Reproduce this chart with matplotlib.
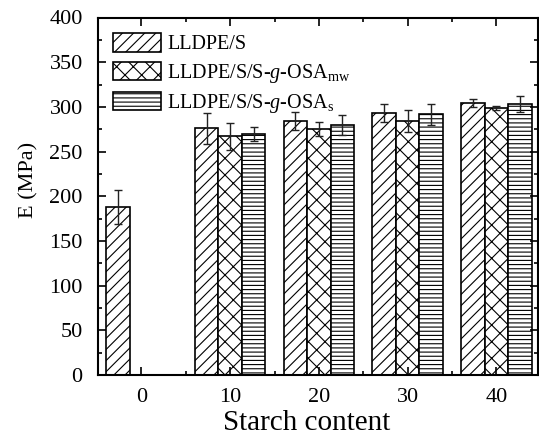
import matplotlib
matplotlib.use("Agg")
import matplotlib.pyplot as plt
import numpy as np

plt.rcParams['font.family'] = ['Liberation Serif', 'DejaVu Serif']
plt.rcParams['mathtext.fontset'] = 'custom'
plt.rcParams['mathtext.rm'] = 'Liberation Serif'
plt.rcParams['mathtext.it'] = 'Liberation Serif:italic'
plt.rcParams['hatch.linewidth'] = 0.8

categories = ["0", "10", "20", "30", "40"]
series_names = ["LLDPE/S", r"LLDPE/S/S-$\mathit{g}$-OSA$_{\mathrm{mw}}$", r"LLDPE/S/S-$\mathit{g}$-OSA$_{\mathrm{s}}$"]
lldpe_s = [188.5, 276, 284, 293.5, 304]
lldpe_s_err = [19, 17, 10, 10, 4.5]
osa_mw = [np.nan, 267, 275, 284, 299]
osa_mw_err = [np.nan, 15.5, 8, 12, 2.5]
osa_s = [np.nan, 269.5, 279.5, 291.5, 303]
osa_s_err = [np.nan, 8, 11, 12, 9]
hatches = ['///', 'xx', '----']

fig = plt.figure(figsize=(5.39, 4.37), dpi=100)
ax = fig.add_axes([98/539, 1-375/437, 440/539, 357.5/437])

x = np.arange(len(categories))
w = 0.265
offsets = [-w, 0, w]
for vals, errs, off, hatch, name in zip([lldpe_s, osa_mw, osa_s], [lldpe_s_err, osa_mw_err, osa_s_err], offsets, hatches, series_names):
    ax.bar(x + off, vals, w, yerr=errs, color='white', edgecolor='black', linewidth=1.2,
           hatch=hatch, label=name,
           error_kw=dict(ecolor='#222222', elinewidth=1.0, capsize=3, capthick=1.0))

ax.set_xlim(-0.49, 4.47)
ax.set_ylim(0, 400)
ax.set_xticks(x)
ax.set_xticklabels(categories)
ax.set_xticks(x[:-1] + 0.5, minor=True)
ax.set_yticks(np.arange(0, 401, 50))
ax.set_yticks(np.arange(25, 400, 50), minor=True)
ax.tick_params(axis='both', which='both', direction='in', top=True, right=True, labelsize=16, width=1.2)
ax.tick_params(which='major', length=6)
ax.tick_params(which='minor', length=3)
ax.tick_params(axis='x', pad=9)
ax.tick_params(axis='y', pad=11)
for s in ax.spines.values():
    s.set_linewidth(1.5)

ax.set_xlabel("Starch content", fontsize=21)
ax.xaxis.set_label_coords(0.474, -0.098)
ax.set_ylabel("E (MPa)", fontsize=16)
ax.yaxis.set_label_coords(-0.136, 0.545)

leg = ax.legend(loc='upper left', bbox_to_anchor=(14.7/440, 1-16/357.5), frameon=False,
                fontsize=14.5, handlelength=2.4, handleheight=1.0, handletextpad=0.3,
                labelspacing=0.36, borderpad=0, borderaxespad=0)

fig.savefig("out.png", dpi=100)
